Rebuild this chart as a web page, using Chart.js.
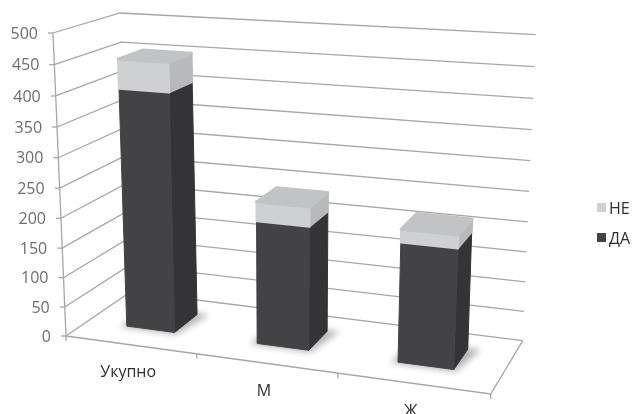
<!DOCTYPE html>
<html>
<head>
  <title>Укупно М Ж</title>
  <script src="https://cdn.jsdelivr.net/npm/chart.js"></script>
  <style>
    html, body { margin: 0; padding: 0; background: #fff; overflow: hidden; }
    canvas { display: block; }
  </style>
</head>
<body>
  <canvas id="chart3d" width="632" height="414"></canvas>

  <script>
    const categories = ['Укупно', 'М', 'Ж'];
    const daValues = [403, 205, 195];
    const neValues = [48, 32, 21];
    const seriesNames = ['ДА', 'НЕ'];

    const FONT = '16px "Open Sans"';
    const GRID = '#a6a6aa';

    // corners of the 3D box as they land on the page
    const box = {
      frontLeft: [[66, 336], [53, 33]],
      frontRight: [[490.7, 394], [505, 62]],
      backLeft: [[130.7, 291.8], [120, 13]],
      backRight: [[522.7, 340.7], [535.7, 34.7]]
    };
    const depthFront = 0.34;
    const depthBack = 0.73;

    const lerp = (a, b, k) => [a[0] + (b[0] - a[0]) * k, a[1] + (b[1] - a[1]) * k];

    // t along the categories, v up the value axis, d into the page (all 0..1)
    function project(t, v, d) {
      const s = 0.89 * t / (1 - 0.11 * t);
      const h = 0.953 * v / (1 - 0.047 * v);
      const bottom = lerp(lerp(box.frontLeft[0], box.frontRight[0], s), lerp(box.backLeft[0], box.backRight[0], s), d);
      const top = lerp(lerp(box.frontLeft[1], box.frontRight[1], s), lerp(box.backLeft[1], box.backRight[1], s), d);
      return lerp(bottom, top, h);
    }

    function line(ctx, points, color, width) {
      ctx.beginPath();
      points.forEach((p, i) => i ? ctx.lineTo(p[0], p[1]) : ctx.moveTo(p[0], p[1]));
      ctx.strokeStyle = color;
      ctx.lineWidth = width;
      ctx.stroke();
    }

    function face(ctx, points, color, edge) {
      ctx.beginPath();
      points.forEach((p, i) => i ? ctx.lineTo(p[0], p[1]) : ctx.moveTo(p[0], p[1]));
      ctx.closePath();
      ctx.fillStyle = color;
      ctx.fill();
      ctx.strokeStyle = color;
      ctx.lineWidth = edge || 1;
      ctx.lineJoin = 'round';
      ctx.stroke();
    }

    const frame3d = {
      id: 'frame3d',
      beforeDatasetsDraw(chart) {
        const ctx = chart.ctx;
        const area = chart.chartArea;
        const yScale = chart.scales.y;
        const xScale = chart.scales.x;
        const toV = py => (area.bottom - py) / area.height;
        const toT = px => (px - area.left) / area.width;

        // walls and floor
        ctx.save();
        yScale.ticks.forEach(tick => {
          const v = toV(yScale.getPixelForValue(tick.value));
          const p = project(0, v, 0);
          line(ctx, [p, project(0, v, 1), project(1, v, 1)], GRID, 1.3);
          line(ctx, [[p[0] - 5, p[1]], p], GRID, 1.3);
          ctx.fillStyle = '#6d6d72';
          ctx.font = FONT;
          ctx.textAlign = 'right';
          ctx.textBaseline = 'middle';
          ctx.fillText(tick.label, p[0] - 15, p[1] + 1);
        });
        const a0 = project(0, 0, 0);
        line(ctx, [[a0[0], a0[1] + 5], a0, project(0, 1, 0)], GRID, 1.3);
        line(ctx, [a0, project(1, 0, 0), project(1, 0, 1)], GRID, 1.3);
        for (let i = 1; i <= categories.length; i++) {
          const p = project(i / categories.length, 0, 0);
          line(ctx, [p, [p[0], p[1] + 5]], GRID, 1.3);
        }
        categories.forEach((name, i) => {
          const p = project(toT(xScale.getPixelForValue(i)), 0, 0);
          ctx.fillStyle = '#2f2f31';
          ctx.font = FONT;
          ctx.textAlign = 'center';
          ctx.textBaseline = 'middle';
          ctx.fillText(name, p[0] - 2, p[1] + 28);
        });

        // soft shadow under each column
        chart.getDatasetMeta(0).data.forEach(el => {
          const t0 = toT(el.x - el.width / 2);
          const t1 = toT(el.x + el.width / 2);
          ctx.save();
          ctx.filter = 'blur(3px)';
          face(ctx, [
            project(t0 - 0.012, 0, depthFront - 0.01),
            project(t1 + 0.006, 0, depthFront - 0.02),
            project(t1 + 0.025, 0, depthBack + 0.01),
            project(t0, 0, depthBack)
          ], '#b0b0b2');
          ctx.restore();
        });

        // columns, bottom segment first
        chart.data.datasets.forEach((ds, di) => {
          chart.getDatasetMeta(di).data.forEach(el => {
            const t0 = toT(el.x - el.width / 2);
            const t1 = toT(el.x + el.width / 2);
            const v0 = toV(el.base);
            const v1 = toV(el.y);
            const topFace = di === chart.data.datasets.length - 1;
            face(ctx, [project(t1, v0, depthFront), project(t1, v0, depthBack), project(t1, v1, depthBack), project(t1, v1, depthFront)], ds.sideColor, topFace ? 2 : 1);
            face(ctx, [project(t0, v0, depthFront), project(t1, v0, depthFront), project(t1, v1, depthFront), project(t0, v1, depthFront)], ds.backgroundColor, topFace ? 2 : 1);
            if (topFace) {
              face(ctx, [project(t0, v1, depthFront), project(t1, v1, depthFront), project(t1, v1, depthBack), project(t0, v1, depthBack)], ds.topColor, 3);
            }
          });
        });

        // legend, top series listed first
        chart.data.datasets.slice().reverse().forEach((ds, i) => {
          const y = 208 + i * 30;
          ctx.fillStyle = ds.backgroundColor;
          ctx.fillRect(597, y - 5, 9, 9);
          ctx.fillStyle = '#2f2f31';
          ctx.font = FONT;
          ctx.textAlign = 'left';
          ctx.textBaseline = 'middle';
          ctx.fillText(ds.label, 609, y + 1);
        });
        ctx.restore();
        return false;
      }
    };

    new Chart(document.getElementById('chart3d').getContext('2d'), {
      type: 'bar',
      data: {
        labels: categories,
        datasets: [
          { label: seriesNames[0], data: daValues, backgroundColor: '#434345', sideColor: '#343436', topColor: '#434345' },
          { label: seriesNames[1], data: neValues, backgroundColor: '#cfd0d2', sideColor: '#b8b9bb', topColor: '#c2c3c5' }
        ]
      },
      options: {
        responsive: false,
        animation: false,
        categoryPercentage: 1,
        barPercentage: 0.375,
        plugins: { legend: { display: false }, tooltip: { enabled: false } },
        scales: {
          x: { stacked: true, display: false },
          y: { stacked: true, display: false, min: 0, max: 500, ticks: { stepSize: 50 } }
        }
      },
      plugins: [frame3d]
    });
  </script>
</body>
</html>
